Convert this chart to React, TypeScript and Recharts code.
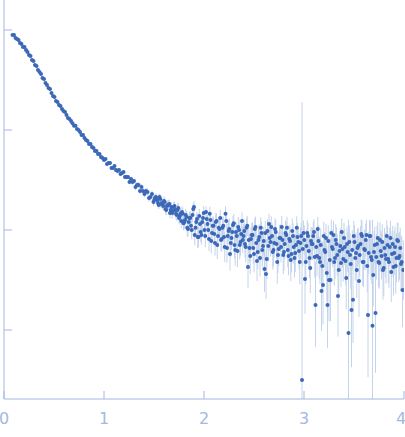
import React from 'react';
import { ScatterChart, Scatter, XAxis, YAxis, ErrorBar } from 'recharts';

// scattering vector q (main grid)
const qValues = [
  0.085, 0.1, 0.115, 0.13, 0.145, 0.16, 0.175, 0.19, 0.205, 0.22,
  0.235, 0.25, 0.265, 0.28, 0.295, 0.31, 0.325, 0.34, 0.355, 0.37,
  0.385, 0.4, 0.415, 0.43, 0.445, 0.46, 0.475, 0.49, 0.505, 0.52,
  0.535, 0.55, 0.565, 0.58, 0.595, 0.61, 0.625, 0.64, 0.655, 0.67,
  0.685, 0.7, 0.715, 0.73, 0.745, 0.76, 0.775, 0.79, 0.805, 0.82,
  0.835, 0.85, 0.865, 0.88, 0.895, 0.91, 0.925, 0.94, 0.955, 0.97,
  0.985, 1, 1.015, 1.03, 1.045, 1.06, 1.075, 1.09, 1.105, 1.12,
  1.135, 1.15, 1.165, 1.18, 1.195, 1.21, 1.225, 1.24, 1.255, 1.27,
  1.285, 1.3, 1.315, 1.33, 1.345, 1.36, 1.375, 1.39, 1.405, 1.42,
  1.435, 1.45, 1.465, 1.48, 1.495, 1.51, 1.525, 1.54, 1.555, 1.57,
  1.585, 1.6, 1.615, 1.63, 1.645, 1.66, 1.675, 1.69, 1.705, 1.72,
  1.735, 1.75, 1.765, 1.78, 1.795, 1.81, 1.825, 1.84, 1.855, 1.87,
  1.885, 1.9, 1.915, 1.93, 1.945, 1.96, 1.975, 1.99, 2.005, 2.02,
  2.035, 2.05, 2.065, 2.08, 2.095, 2.11, 2.125, 2.14, 2.155, 2.17,
  2.185, 2.2, 2.215, 2.23, 2.245, 2.26, 2.275, 2.29, 2.305, 2.32,
  2.335, 2.35, 2.365, 2.38, 2.395, 2.41, 2.425, 2.44, 2.455, 2.47,
  2.485, 2.5, 2.515, 2.53, 2.545, 2.56, 2.575, 2.59, 2.605, 2.62,
  2.635, 2.65, 2.665, 2.68, 2.695, 2.71, 2.725, 2.74, 2.755, 2.77,
  2.785, 2.8, 2.815, 2.83, 2.845, 2.86, 2.875, 2.89, 2.905, 2.92,
  2.935, 2.95, 2.965, 2.98, 2.995, 3.01, 3.025, 3.04, 3.055, 3.07,
  3.085, 3.1, 3.115, 3.13, 3.145, 3.16, 3.175, 3.19, 3.205, 3.22,
  3.235, 3.25, 3.265, 3.28, 3.295, 3.31, 3.325, 3.34, 3.355, 3.37,
  3.385, 3.4, 3.415, 3.43, 3.445, 3.46, 3.475, 3.49, 3.505, 3.52,
  3.535, 3.55, 3.565, 3.58, 3.595, 3.61, 3.625, 3.64, 3.655, 3.67,
  3.685, 3.7, 3.715, 3.73, 3.745, 3.76, 3.775, 3.79, 3.805, 3.82,
  3.835, 3.85, 3.865, 3.88, 3.895, 3.91, 3.925, 3.94, 3.955, 3.97, 3.985,
];

// scattered intensity I(q) (main grid)
const intensity = [
  0.891, 0.891, 0.832, 0.813, 0.794, 0.741, 0.724, 0.676, 0.676, 0.631,
  0.603, 0.562, 0.55, 0.501, 0.49, 0.447, 0.437, 0.398, 0.38, 0.363,
  0.331, 0.324, 0.295, 0.282, 0.263, 0.257, 0.234, 0.219, 0.214, 0.195,
  0.191, 0.178, 0.174, 0.162, 0.155, 0.151, 0.141, 0.132, 0.129, 0.123,
  0.117, 0.11, 0.11, 0.102, 0.1, 0.0955, 0.0891, 0.0891, 0.0832, 0.0794,
  0.0776, 0.0724, 0.0724, 0.0676, 0.0661, 0.0617, 0.0617, 0.0575, 0.0575, 0.0537,
  0.0525, 0.0501, 0.0513, 0.0457, 0.0468, 0.0468, 0.0417, 0.0417, 0.0437, 0.0398,
  0.0389, 0.0398, 0.0363, 0.0372, 0.038, 0.0339, 0.0339, 0.0339, 0.0302, 0.0324,
  0.0302, 0.0309, 0.0269, 0.0282, 0.0282, 0.0245, 0.0269, 0.0245, 0.0229, 0.0245,
  0.024, 0.0209, 0.0214, 0.0229, 0.0191, 0.0209, 0.0209, 0.0186, 0.0214, 0.0182,
  0.0182, 0.0195, 0.0162, 0.0174, 0.0178, 0.0148, 0.017, 0.0155, 0.0174, 0.0145,
  0.0158, 0.0132, 0.0145, 0.0151, 0.0117, 0.0126, 0.0135, 0.0102, 0.0132, 0.011,
  0.0141, 0.017, 0.0105, 0.0129, 0.00851, 0.0115, 0.00891, 0.0132, 0.01, 0.0151,
  0.0115, 0.00813, 0.0126, 0.00933, 0.011, 0.00741, 0.0123, 0.00871, 0.0102, 0.00794,
  0.0105, 0.00851, 0.0145, 0.00661, 0.00977, 0.00575, 0.00832, 0.0112, 0.00708, 0.00955,
  0.00617, 0.01, 0.00759, 0.0123, 0.00871, 0.00724, 0.0105, 0.00427, 0.00661, 0.00813,
  0.00891, 0.00575, 0.0107, 0.0049, 0.00794, 0.00525, 0.00933, 0.00692, 0.00407, 0.00363,
  0.00977, 0.0115, 0.00759, 0.00871, 0.00631, 0.0102, 0.00724, 0.00562, 0.00832, 0.00676,
  0.00794, 0.00603, 0.00933, 0.0105, 0.0055, 0.00776, 0.00575, 0.00871, 0.00525, 0.00708,
  0.00851, 0.00617, 0.00741, 0.000316, 0.00933, 0.00324, 0.00692, 0.00871, 0.00525, 0.00776,
  0.00724, 0.00955, 0.00178, 0.0055, 0.00776, 0.00479, 0.00245, 0.00282, 0.00631, 0.00832,
  0.00178, 0.00316, 0.00316, 0.00676, 0.00891, 0.00525, 0.00724, 0.00219, 0.00617, 0.00468,
  0.00646, 0.00832, 0.0049, 0.00724, 0.000933, 0.00562, 0.00158, 0.002, 0.00759, 0.00589,
  0.00661, 0.00309, 0.00724, 0.00871, 0.00479, 0.00631, 0.00891, 0.00141, 0.00871, 0.00537,
  0.0011, 0.00603, 0.00148, 0.00724, 0.00479, 0.00794, 0.0055, 0.00398, 0.00661, 0.00513,
  0.00708, 0.00479, 0.00832, 0.00575, 0.00427, 0.00676, 0.00525, 0.00776, 0.0055, 0.00457, 0.00251,
];

// measurement uncertainty of I(q) (main grid)
const sigma = [
  0.009, 0.009, 0.008, 0.008, 0.008, 0.007, 0.007, 0.007, 0.007, 0.006,
  0.006, 0.006, 0.005, 0.005, 0.005, 0.0045, 0.0044, 0.004, 0.0038, 0.0036,
  0.0034, 0.0032, 0.003, 0.0029, 0.0027, 0.0026, 0.0024, 0.0022, 0.0021, 0.002,
  0.0029, 0.0027, 0.0026, 0.0025, 0.0023, 0.0022, 0.0021, 0.002, 0.0019, 0.0018,
  0.0023, 0.0022, 0.0021, 0.0021, 0.002, 0.0019, 0.0018, 0.0017, 0.0017, 0.0016,
  0.0019, 0.0018, 0.0018, 0.0017, 0.0017, 0.0016, 0.0015, 0.0015, 0.0014, 0.0014,
  0.0021, 0.002, 0.002, 0.0019, 0.0019, 0.0018, 0.0018, 0.0017, 0.0017, 0.0016,
  0.002, 0.002, 0.0019, 0.0019, 0.0018, 0.0018, 0.0017, 0.0017, 0.0016, 0.0016,
  0.0022, 0.0021, 0.0021, 0.002, 0.002, 0.0019, 0.0018, 0.0018, 0.0017, 0.0017,
  0.0021, 0.002, 0.002, 0.0019, 0.0019, 0.0018, 0.0018, 0.0018, 0.0017, 0.0017,
  0.0022, 0.0022, 0.0021, 0.0021, 0.002, 0.002, 0.002, 0.0019, 0.0019, 0.0019,
  0.0023, 0.0022, 0.0022, 0.0021, 0.0021, 0.0021, 0.002, 0.002, 0.0019, 0.0019,
  0.0025, 0.0024, 0.0024, 0.0023, 0.0023, 0.0023, 0.0022, 0.0022, 0.0021, 0.0021,
  0.0026, 0.0026, 0.0026, 0.0025, 0.0025, 0.0025, 0.0024, 0.0024, 0.0024, 0.0024,
  0.0028, 0.0028, 0.0028, 0.0027, 0.0027, 0.0027, 0.0026, 0.0026, 0.0026, 0.0026,
  0.0028, 0.0028, 0.0028, 0.0027, 0.0027, 0.0027, 0.0027, 0.0027, 0.0026, 0.0026,
  0.003, 0.003, 0.0029, 0.0029, 0.0029, 0.0028, 0.0028, 0.0028, 0.0028, 0.0028,
  0.003, 0.003, 0.003, 0.003, 0.0029, 0.0029, 0.0029, 0.0029, 0.0029, 0.0029,
  0.0032, 0.0032, 0.0031, 0.0031, 0.0031, 0.0031, 0.003, 0.003, 0.003, 0.003,
  0.0032, 0.0032, 0.0032, 0.19, 0.0031, 0.004, 0.0031, 0.0031, 0.0031, 0.003,
  0.0033, 0.0033, 0.0029, 0.0033, 0.0033, 0.0032, 0.0037, 0.0042, 0.0032, 0.0032,
  0.003, 0.005, 0.005, 0.0033, 0.0034, 0.0033, 0.0034, 0.0034, 0.0035, 0.0035,
  0.0035, 0.0035, 0.0036, 0.0036, 0.0117, 0.0036, 0.0043, 0.0034, 0.0036, 0.0036,
  0.0036, 0.004, 0.0037, 0.0037, 0.0037, 0.0037, 0.0037, 0.0045, 0.0038, 0.0038,
  0.0116, 0.0038, 0.0044, 0.0038, 0.0038, 0.0039, 0.0039, 0.0039, 0.0039, 0.0039,
  0.0039, 0.0039, 0.004, 0.004, 0.004, 0.004, 0.004, 0.004, 0.004, 0.004, 0.0034,
];

// interleaved high-q readings (between main grid points)
const qExtra = [
  1.5025, 1.5175, 1.5325, 1.5475, 1.5625, 1.5775, 1.5925, 1.6075, 1.6225, 1.6375,
  1.6525, 1.6675, 1.6825, 1.6975, 1.7125, 1.7275, 1.7425, 1.7575, 1.7725, 1.7875,
  1.8025, 1.8175, 1.8325, 1.8475, 1.8625, 1.8775, 1.8925, 1.9075, 1.9225, 1.9375,
  1.9525, 1.9675, 1.9825, 1.9975, 2.0125, 2.0275, 2.0425, 2.0575, 2.0725, 2.0875,
  2.1025, 2.1175, 2.1325, 2.1475, 2.1625, 2.1775, 2.1925, 2.2075, 2.2225, 2.2375,
  2.2525, 2.2675, 2.2825, 2.2975, 2.3125, 2.3275, 2.3425, 2.3575, 2.3725, 2.3875,
  2.4025, 2.4175, 2.4325, 2.4475, 2.4625, 2.4775, 2.4925, 2.5075, 2.5225, 2.5375,
  2.5525, 2.5675, 2.5825, 2.5975, 2.6125, 2.6275, 2.6425, 2.6575, 2.6725, 2.6875,
  2.7025, 2.7175, 2.7325, 2.7475, 2.7625, 2.7775, 2.7925, 2.8075, 2.8225, 2.8375,
  2.8525, 2.8675, 2.8825, 2.8975, 2.9125, 2.9275, 2.9425, 2.9575, 2.9725, 2.9875,
  3.0025, 3.0175, 3.0325, 3.0475, 3.0625, 3.0775, 3.0925, 3.1075, 3.1225, 3.1375,
  3.1525, 3.1675, 3.1825, 3.1975, 3.2125, 3.2275, 3.2425, 3.2575, 3.2725, 3.2875,
  3.3025, 3.3175, 3.3325, 3.3475, 3.3625, 3.3775, 3.3925, 3.4075, 3.4225, 3.4375,
  3.4525, 3.4675, 3.4825, 3.4975, 3.5125, 3.5275, 3.5425, 3.5575, 3.5725, 3.5875,
  3.6025, 3.6175, 3.6325, 3.6475, 3.6625, 3.6775, 3.6925, 3.7075, 3.7225, 3.7375,
  3.7525, 3.7675, 3.7825, 3.7975, 3.8125, 3.8275, 3.8425, 3.8575, 3.8725, 3.8875,
  3.9025, 3.9175, 3.9325, 3.9475, 3.9625, 3.9775, 3.9925,
];

const intensityExtra = [
  0.02, 0.0214, 0.02, 0.0178, 0.0204, 0.0186, 0.0174, 0.0191, 0.0158, 0.0178,
  0.0182, 0.0158, 0.0148, 0.017, 0.0158, 0.0141, 0.0166, 0.0138, 0.0123, 0.0145,
  0.012, 0.0141, 0.0105, 0.012, 0.0132, 0.01, 0.0162, 0.00891, 0.012, 0.00851,
  0.0138, 0.00955, 0.012, 0.0148, 0.00871, 0.0129, 0.01, 0.0145, 0.00776, 0.011,
  0.00912, 0.012, 0.00708, 0.0105, 0.0132, 0.00813, 0.011, 0.00676, 0.0123, 0.00871,
  0.0102, 0.00741, 0.00955, 0.0117, 0.00631, 0.00871, 0.0107, 0.00708, 0.00912, 0.00794,
  0.00977, 0.00676, 0.011, 0.00794, 0.0055, 0.00891, 0.00661, 0.0102, 0.00741, 0.00603,
  0.00851, 0.0105, 0.00631, 0.00776, 0.00933, 0.00513, 0.00692, 0.00832, 0.0107, 0.00603,
  0.00741, 0.00955, 0.00479, 0.00646, 0.00832, 0.0107, 0.00562, 0.00724, 0.00891, 0.00631,
  0.00813, 0.00501, 0.00977, 0.00676, 0.00589, 0.0105, 0.00759, 0.00479, 0.00871, 0.00646,
  0.00794, 0.00479, 0.00933, 0.00617, 0.00417, 0.00724, 0.00871, 0.00537, 0.00676, 0.0102,
  0.00525, 0.00708, 0.00437, 0.00871, 0.00603, 0.00372, 0.00776, 0.00501, 0.00933, 0.00646,
  0.00479, 0.00794, 0.00562, 0.00398, 0.00692, 0.00955, 0.00513, 0.00676, 0.00331, 0.00603,
  0.00759, 0.00457, 0.00631, 0.00871, 0.00525, 0.00398, 0.00692, 0.00562, 0.00912, 0.00479,
  0.00646, 0.00794, 0.00437, 0.00589, 0.00871, 0.00501, 0.00355, 0.00708, 0.00537, 0.00832,
  0.00468, 0.00617, 0.00759, 0.00417, 0.00562, 0.00871, 0.00513, 0.00676, 0.0038, 0.00724,
  0.00589, 0.00437, 0.00794, 0.00525, 0.00661, 0.00479, 0.00398,
];

const sigmaExtra = [
  0.0018, 0.0018, 0.0018, 0.0018, 0.0019, 0.0019, 0.0019, 0.0019, 0.002, 0.002,
  0.002, 0.002, 0.002, 0.0021, 0.0021, 0.0021, 0.0021, 0.0022, 0.0022, 0.0022,
  0.0022, 0.0022, 0.0023, 0.0023, 0.0023, 0.0024, 0.0024, 0.0024, 0.0024, 0.0025,
  0.0025, 0.0025, 0.0025, 0.0026, 0.0026, 0.0026, 0.0026, 0.0026, 0.0026, 0.0026,
  0.0026, 0.0027, 0.0027, 0.0027, 0.0027, 0.0027, 0.0027, 0.0028, 0.0028, 0.0028,
  0.0028, 0.0028, 0.0028, 0.0028, 0.0028, 0.0028, 0.0028, 0.0028, 0.0028, 0.0028,
  0.0029, 0.0029, 0.0029, 0.0029, 0.0029, 0.0029, 0.0029, 0.0029, 0.0029, 0.0029,
  0.0029, 0.0029, 0.003, 0.003, 0.003, 0.003, 0.003, 0.003, 0.003, 0.003,
  0.003, 0.003, 0.0031, 0.0031, 0.0031, 0.0031, 0.0031, 0.0031, 0.0031, 0.0031,
  0.0031, 0.0032, 0.0032, 0.0032, 0.0032, 0.0032, 0.0032, 0.0032, 0.0032, 0.0032,
  0.0032, 0.0033, 0.0033, 0.0033, 0.0033, 0.0033, 0.0033, 0.0033, 0.0033, 0.0033,
  0.0033, 0.0033, 0.0034, 0.0034, 0.0034, 0.0034, 0.0034, 0.0034, 0.0034, 0.0034,
  0.0035, 0.0035, 0.0035, 0.0035, 0.0035, 0.0035, 0.0035, 0.0035, 0.0035, 0.0035,
  0.0036, 0.0036, 0.0036, 0.0036, 0.0036, 0.0036, 0.0036, 0.0036, 0.0036, 0.0036,
  0.0037, 0.0037, 0.0037, 0.0037, 0.0037, 0.0037, 0.0037, 0.0037, 0.0037, 0.0037,
  0.0038, 0.0038, 0.0038, 0.0038, 0.0038, 0.0038, 0.0038, 0.0038, 0.0038, 0.0038,
  0.0039, 0.0039, 0.0039, 0.0039, 0.0039, 0.0039, 0.0039,
];

const xTicks = [0, 1, 2, 3, 4];
const yTicks = [1, 0.1, 0.01, 0.001];

const Y_MIN = 2.04e-4;
const Y_MAX = 1.995;

const allQ = [...qValues, ...qExtra];
const allI = [...intensity, ...intensityExtra];
const allS = [...sigma, ...sigmaExtra];

// error bars drawn symmetric on the logarithmic axis, clipped at the axis floor
const data = allQ.map((q, i) => {
  const I = allI[i];
  const s = allS[i];
  let lo = (I * s) / (I + s);
  if (I - lo < Y_MIN) lo = I - Y_MIN;
  return { q, I, err: [lo, s] };
});

const AXIS = '#a3b8e2';
const POINT = '#3b68b8';
const BAR = '#c4d4ec';

const Dot = (props: any) => {
  const { cx, cy } = props;
  if (cx == null || cy == null) return null;
  return <circle cx={cx} cy={cy} r={2} fill={POINT} />;
};

export default function App() {
  return (
    <div style={{ position: 'absolute', left: 0, top: 0, width: 405, height: 437, background: '#fff' }}>
      <ScatterChart width={405} height={437} margin={{ top: 0, right: 1, bottom: 0, left: 0 }}>
        <XAxis
          type="number"
          dataKey="q"
          domain={[0, 4]}
          ticks={xTicks}
          allowDataOverflow
          height={38}
          tickSize={-8}
          tickMargin={22}
          axisLine={{ stroke: AXIS }}
          tickLine={{ stroke: AXIS }}
          tick={{ fill: AXIS, fontSize: 16, fontFamily: 'DejaVu Sans' }}
        />
        <YAxis
          type="number"
          dataKey="I"
          scale="log"
          domain={[Y_MIN, Y_MAX]}
          ticks={yTicks}
          allowDataOverflow
          width={4}
          tickSize={-8}
          tickFormatter={() => ''}
          axisLine={{ stroke: AXIS }}
          tickLine={{ stroke: AXIS }}
        />
        <Scatter data={data} dataKey="I" shape={Dot} isAnimationActive={false}>
          <ErrorBar dataKey="err" direction="y" width={0} stroke={BAR} strokeWidth={1} isAnimationActive={false} />
        </Scatter>
      </ScatterChart>
    </div>
  );
}
